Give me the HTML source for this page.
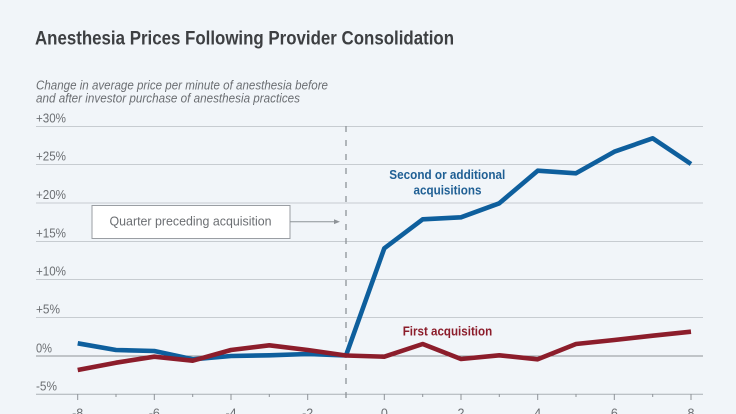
<!DOCTYPE html>
<html><head><meta charset="utf-8"><style>
html,body{margin:0;padding:0;background:#f1f5f9;}
svg{display:block;}
text{font-family:"Liberation Sans",sans-serif;}
</style></head><body>
<svg width="736" height="414" viewBox="0 0 736 414" xmlns="http://www.w3.org/2000/svg">
<rect width="736" height="414" fill="#f1f5f9"/>
<text x="35" y="44.5" font-size="19.5" font-weight="bold" fill="#3d3f42" textLength="419" lengthAdjust="spacingAndGlyphs">Anesthesia Prices Following Provider Consolidation</text>
<text x="36" y="89.3" font-size="13" font-style="italic" fill="#6b6e72" textLength="292" lengthAdjust="spacingAndGlyphs">Change in average price per minute of anesthesia before</text>
<text x="36" y="102.5" font-size="13" font-style="italic" fill="#6b6e72" textLength="264" lengthAdjust="spacingAndGlyphs">and after investor purchase of anesthesia practices</text>
<!-- gridlines -->
<g stroke="#c7ccd1" stroke-width="1">
<line x1="36" x2="703" y1="126.5" y2="126.5"/>
<line x1="36" x2="703" y1="164.5" y2="164.5"/>
<line x1="36" x2="703" y1="203" y2="203"/>
<line x1="36" x2="703" y1="241.5" y2="241.5"/>
<line x1="36" x2="703" y1="279.5" y2="279.5"/>
<line x1="36" x2="703" y1="317.5" y2="317.5"/>
</g>
<line x1="36" x2="703" y1="356" y2="356" stroke="#8e9398" stroke-width="1"/>
<line x1="36" x2="703" y1="394.3" y2="394.3" stroke="#aab0b6" stroke-width="1"/>
<!-- y labels -->
<g font-size="12.5" fill="#6b6e72">
<text x="36" y="122.5" textLength="30" lengthAdjust="spacingAndGlyphs">+30%</text>
<text x="36" y="160.5" textLength="30" lengthAdjust="spacingAndGlyphs">+25%</text>
<text x="36" y="199" textLength="30" lengthAdjust="spacingAndGlyphs">+20%</text>
<text x="36" y="237.5" textLength="30" lengthAdjust="spacingAndGlyphs">+15%</text>
<text x="36" y="275.5" textLength="30" lengthAdjust="spacingAndGlyphs">+10%</text>
<text x="36" y="313.5" textLength="24" lengthAdjust="spacingAndGlyphs">+5%</text>
<text x="36" y="352.5" textLength="16" lengthAdjust="spacingAndGlyphs">0%</text>
<text x="36" y="390.5" textLength="21" lengthAdjust="spacingAndGlyphs">-5%</text>
</g>
<!-- ticks -->
<g stroke="#8e9398" stroke-width="1">
<line x1="77.7" x2="77.7" y1="394" y2="400"/>
<line x1="116" x2="116" y1="394" y2="397"/>
<line x1="154.3" x2="154.3" y1="394" y2="400"/>
<line x1="192.7" x2="192.7" y1="394" y2="397"/>
<line x1="231" x2="231" y1="394" y2="400"/>
<line x1="269.3" x2="269.3" y1="394" y2="397"/>
<line x1="307.7" x2="307.7" y1="394" y2="400"/>
<line x1="384.3" x2="384.3" y1="394" y2="400"/>
<line x1="422.7" x2="422.7" y1="394" y2="397"/>
<line x1="461" x2="461" y1="394" y2="400"/>
<line x1="499.3" x2="499.3" y1="394" y2="397"/>
<line x1="537.7" x2="537.7" y1="394" y2="400"/>
<line x1="576" x2="576" y1="394" y2="397"/>
<line x1="614.3" x2="614.3" y1="394" y2="400"/>
<line x1="652.7" x2="652.7" y1="394" y2="397"/>
<line x1="691" x2="691" y1="394" y2="400"/>
</g>
<g font-size="12.5" fill="#6b6e72" text-anchor="middle">
<text x="77.7" y="417.5">-8</text>
<text x="154.3" y="417.5">-6</text>
<text x="231" y="417.5">-4</text>
<text x="307.7" y="417.5">-2</text>
<text x="384.3" y="417.5">0</text>
<text x="461" y="417.5">2</text>
<text x="537.7" y="417.5">4</text>
<text x="614.3" y="417.5">6</text>
<text x="691" y="417.5">8</text>
</g>
<!-- dashed vertical -->
<line x1="346" x2="346" y1="126" y2="399" stroke="#8e9398" stroke-width="1.3" stroke-dasharray="6,8"/>
<!-- annotation -->
<rect x="92" y="205.5" width="198" height="33" fill="#ffffff" stroke="#9a9ea3" stroke-width="1"/>
<text x="109.5" y="225.5" font-size="13" fill="#6b6e72" textLength="162" lengthAdjust="spacingAndGlyphs">Quarter preceding acquisition</text>
<line x1="290" y1="221.7" x2="336" y2="221.7" stroke="#8e9398" stroke-width="1"/>
<polygon points="340,221.7 334,219.3 334,224.1" fill="#8e9398"/>
<!-- series -->
<polyline fill="none" stroke="#0e5f9d" stroke-width="4.6" stroke-linejoin="round" stroke-linecap="butt"
 points="77.7,343.3 116,350 154.3,351 192.7,359.3 231,356 269.3,355.3 307.7,354 346,355.5 384.3,248.3 422.7,219.3 461,217.3 499.3,203.3 537.7,170.7 576,173.3 614.3,151.7 652.7,138.3 691,164"/>
<polyline fill="none" stroke="#8c1d2b" stroke-width="4.6" stroke-linejoin="round" stroke-linecap="butt"
 points="77.7,370 116,362.7 154.3,356.7 192.7,360.7 231,350 269.3,345.3 307.7,350 346,355.5 384.3,356.7 422.7,344 461,359 499.3,355.3 537.7,359.3 576,344 614.3,340 652.7,335.7 691,331.7"/>
<!-- series labels -->
<g font-size="12.8" font-weight="bold" fill="#1f5f94" text-anchor="middle">
<text x="447.3" y="179" textLength="116" lengthAdjust="spacingAndGlyphs">Second or additional</text>
<text x="447.5" y="194.5" textLength="68" lengthAdjust="spacingAndGlyphs">acquisitions</text>
</g>
<text x="402.7" y="335.5" font-size="12.8" font-weight="bold" fill="#8c1d2b" textLength="89.5" lengthAdjust="spacingAndGlyphs">First acquisition</text>
</svg>
</body></html>
